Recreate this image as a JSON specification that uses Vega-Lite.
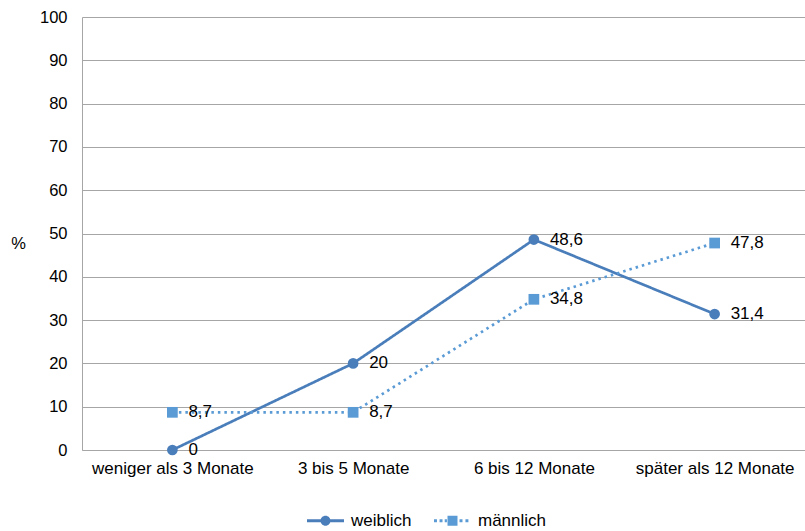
{
  "$schema": "https://vega.github.io/schema/vega-lite/v6.json",
  "width": 723,
  "height": 433,
  "autosize": "none",
  "padding": {"left": 82, "top": 17, "right": 0, "bottom": 81},
  "config": {
    "font": "Liberation Sans",
    "view": {"stroke": null},
    "locale": {"number": {"decimal": ",", "thousands": ".", "grouping": [3], "currency": ["", " €"]}}
  },
  "data": {
    "values": [
      {"Kategorie": "weniger als 3 Monate", "Geschlecht": "weiblich", "Wert": 0},
      {"Kategorie": "3 bis 5 Monate", "Geschlecht": "weiblich", "Wert": 20},
      {"Kategorie": "6 bis 12 Monate", "Geschlecht": "weiblich", "Wert": 48.6},
      {"Kategorie": "später als 12 Monate", "Geschlecht": "weiblich", "Wert": 31.4},
      {"Kategorie": "weniger als 3 Monate", "Geschlecht": "männlich", "Wert": 8.7},
      {"Kategorie": "3 bis 5 Monate", "Geschlecht": "männlich", "Wert": 8.7},
      {"Kategorie": "6 bis 12 Monate", "Geschlecht": "männlich", "Wert": 34.8},
      {"Kategorie": "später als 12 Monate", "Geschlecht": "männlich", "Wert": 47.8}
    ]
  },
  "encoding": {
    "x": {
      "field": "Kategorie", "type": "ordinal",
      "sort": ["weniger als 3 Monate", "3 bis 5 Monate", "6 bis 12 Monate", "später als 12 Monate"],
      "scale": {"type": "point", "padding": 0.5},
      "axis": {"title": null, "labelAngle": 0, "labelFontSize": 17, "labelColor": "#000000", "ticks": false, "domain": true, "domainColor": "#a6a6a6", "labelPadding": 10}
    },
    "y": {
      "field": "Wert", "type": "quantitative",
      "scale": {"domain": [0, 100], "nice": false},
      "axis": {"values": [0, 10, 20, 30, 40, 50, 60, 70, 80, 90, 100], "title": "%", "titleAngle": 0, "titleFontWeight": "normal", "titleFontSize": 16.5, "titleColor": "#000000", "titleX": -64, "titleY": 234, "labelFontSize": 16.5, "labelColor": "#000000", "ticks": false, "labelPadding": 15, "gridColor": "#a6a6a6", "domainColor": "#a6a6a6"}
    }
  },
  "resolve": {"scale": {"shape": "independent", "color": "independent"}},
  "layer": [
    {
      "mark": {"type": "line", "strokeWidth": 2.7},
      "encoding": {
        "color": {"field": "Geschlecht", "type": "nominal", "scale": {"domain": ["weiblich", "männlich"], "range": ["#4a7ebb", "#5b9bd5"]}, "legend": null},
        "strokeDash": {
          "field": "Geschlecht", "type": "nominal",
          "scale": {"domain": ["weiblich", "männlich"], "range": [[1, 0], [2.5, 4]]},
          "legend": null
        }
      }
    },
    {
      "mark": {"type": "point", "filled": true, "opacity": 1, "size": 115},
      "encoding": {
        "color": {"field": "Geschlecht", "type": "nominal", "scale": {"domain": ["weiblich", "männlich"], "range": ["#4a7ebb", "#5b9bd5"]}, "legend": null},
        "shape": {
          "field": "Geschlecht", "type": "nominal",
          "scale": {"domain": ["weiblich", "männlich"], "range": ["circle", "square"]},
          "legend": null
        }
      }
    },
    {
      "mark": {"type": "point", "filled": true, "size": 0},
      "encoding": {
        "color": {"field": "Geschlecht", "type": "nominal", "scale": {"domain": ["weiblich", "männlich"], "range": ["#4a7ebb", "#5b9bd5"]},
          "legend": {"title": null, "orient": "none", "direction": "horizontal", "legendX": 225, "legendY": 485, "labelFontSize": 17, "labelColor": "#000000", "symbolSize": 1369, "symbolStrokeWidth": 0, "symbolOpacity": 1, "columnPadding": 22, "labelOffset": 7}},
        "shape": {
          "field": "Geschlecht", "type": "nominal",
          "scale": {"domain": ["weiblich", "männlich"], "range": [
            "M-1,-0.08H1V0.08H-1Z M-0.27,0A0.27,0.27 0 1,1 0.27,0A0.27,0.27 0 1,1 -0.27,0Z",
            "M-1,-0.08h0.16v0.16h-0.16Z M-0.7,-0.08h0.16v0.16h-0.16Z M-0.42,-0.08h0.12v0.16h-0.12Z M-0.27,-0.27H0.27V0.27H-0.27Z M0.38,-0.08h0.16v0.16h-0.16Z M0.7,-0.08h0.16v0.16h-0.16Z"
          ]},
          "legend": {"title": null, "orient": "none", "direction": "horizontal", "legendX": 225, "legendY": 485, "labelFontSize": 17, "labelColor": "#000000", "symbolSize": 1369, "symbolStrokeWidth": 0, "symbolOpacity": 1, "columnPadding": 22, "labelOffset": 7}
        }
      }
    },
    {
      "mark": {"type": "text", "align": "left", "baseline": "middle", "dx": 16, "fontSize": 17, "color": "#000000"},
      "encoding": {
        "text": {"field": "Wert", "type": "quantitative", "format": ",.1~f"}
      }
    }
  ]
}
